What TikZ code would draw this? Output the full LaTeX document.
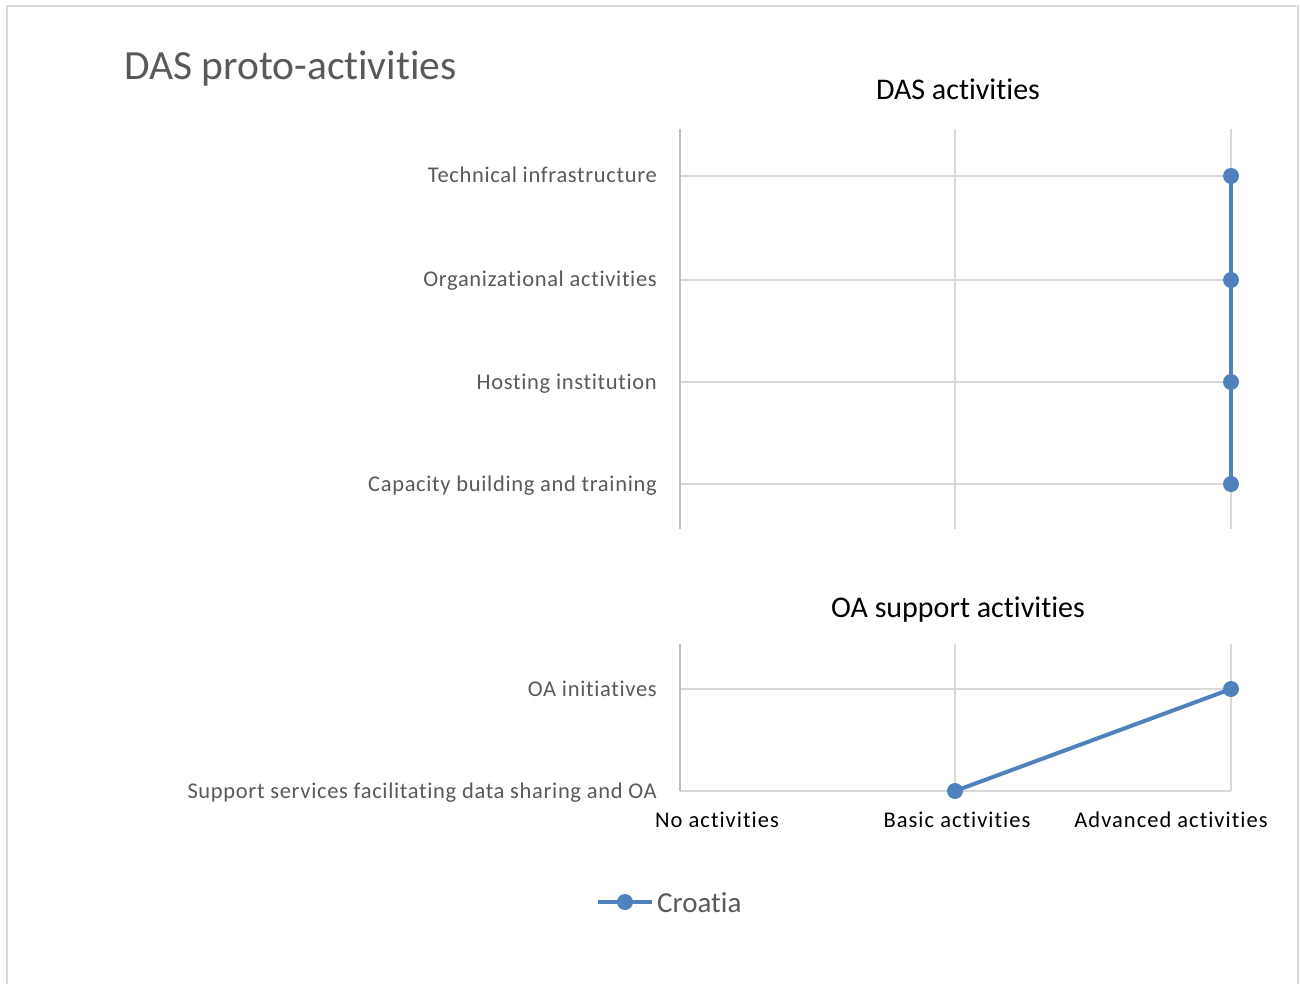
\documentclass[tikz,border=0pt]{standalone}
\usepackage{fontspec}
\setmainfont[Ligatures=NoCommon]{Carlito}
\newfontfamily\ylabfont[Ligatures=NoCommon,LetterSpace=3]{Carlito}
\newfontfamily\xlabfont[Ligatures=NoCommon,LetterSpace=4.5]{Carlito}
\definecolor{txtgray}{HTML}{595959}
\definecolor{gridc}{HTML}{D9D9D9}
\definecolor{axisc}{HTML}{BFBFBF}
\definecolor{series}{HTML}{4F81BD}
\tikzset{
  ylab/.style={anchor=base east, inner sep=0pt, text=txtgray, font=\ylabfont\fontsize{22.5}{27}\selectfont},
  xlab/.style={anchor=base, inner sep=0pt, text=black, font=\xlabfont\fontsize{22.5}{27}\selectfont},
  ptitle/.style={anchor=base, inner sep=0pt, text=black, font=\fontsize{30}{36}\selectfont},
  gridline/.style={draw=gridc, line width=1.5pt},
  axisline/.style={draw=axisc, line width=2pt},
  dot/.style={circle, fill=series, inner sep=0pt, minimum size=16pt},
  serline/.style={draw=series, line width=4pt},
}
\begin{document}
\begin{tikzpicture}[x=1pt,y=-1pt]
\useasboundingbox (0,0) rectangle (1300,984);
% frame
\draw[gridc, line width=2pt] (7,984) -- (7,6) -- (1298,6) -- (1298,984);
% title
\node[anchor=base west, inner sep=0pt, text=txtgray, font=\fontsize{41.5}{48}\selectfont] (title) at (124,80) {DAS proto-activities};
% top panel
\node[ptitle] (t1) at (958,100) {DAS activities};
\foreach \yy in {176,280,382,484} \draw[gridline] (680,\yy) -- (1231,\yy);
\draw[gridline] (955,129) -- (955,529);
\draw[gridline] (1231,129) -- (1231,529);
\draw[axisline] (680,129) -- (680,529);
\node[ylab] (l1) at (657,183) {Technical infrastructure};
\node[ylab] (l2) at (657,287) {Organizational activities};
\node[ylab] (l3) at (657,389) {Hosting institution};
\node[ylab] (l4) at (657,491) {Capacity building and training};
% bottom panel
\node[ptitle] (t2) at (958,617) {OA support activities};
\draw[gridline] (680,689) -- (1231,689);
\draw[gridline] (955,644) -- (955,791);
\draw[gridline] (1231,644) -- (1231,791);
\draw[gridline] (680,791) -- (1231,791);
\draw[axisline] (680,644) -- (680,791);
\node[ylab] (l5) at (657,696) {OA initiatives};
\node[ylab] (l6) at (657,798) {Support services facilitating data sharing and OA};
% x labels
\node[xlab] (x1) at (717,827) {No activities};
\node[xlab] (x2) at (957,827) {Basic activities};
\node[xlab] (x3) at (1171,827) {Advanced activities};
% series
\coordinate (p1) at (1231,176);
\coordinate (p2) at (1231,280);
\coordinate (p3) at (1231,382);
\coordinate (p4) at (1231,484);
\coordinate (q1) at (1231,689);
\coordinate (q2) at (955,791);
\draw[serline] (p1) -- (p2) -- (p3) -- (p4);
\draw[serline] (q1) -- (q2);
\node[dot] (d1) at (p1) {};
\node[dot] (d2) at (p2) {};
\node[dot] (d3) at (p3) {};
\node[dot] (d4) at (p4) {};
\node[dot] (e1) at (q1) {};
\node[dot] (e2) at (q2) {};
% legend
\coordinate (lg1) at (598,902);
\coordinate (lg2) at (652,902);
\draw[serline] (lg1) -- (lg2);
\node[dot] (lgd) at (625,902) {};
\node[anchor=base west, inner sep=0pt, text=txtgray, font=\fontsize{29}{34}\selectfont] (leg) at (657,912) {Croatia};
\end{tikzpicture}
\end{document}
